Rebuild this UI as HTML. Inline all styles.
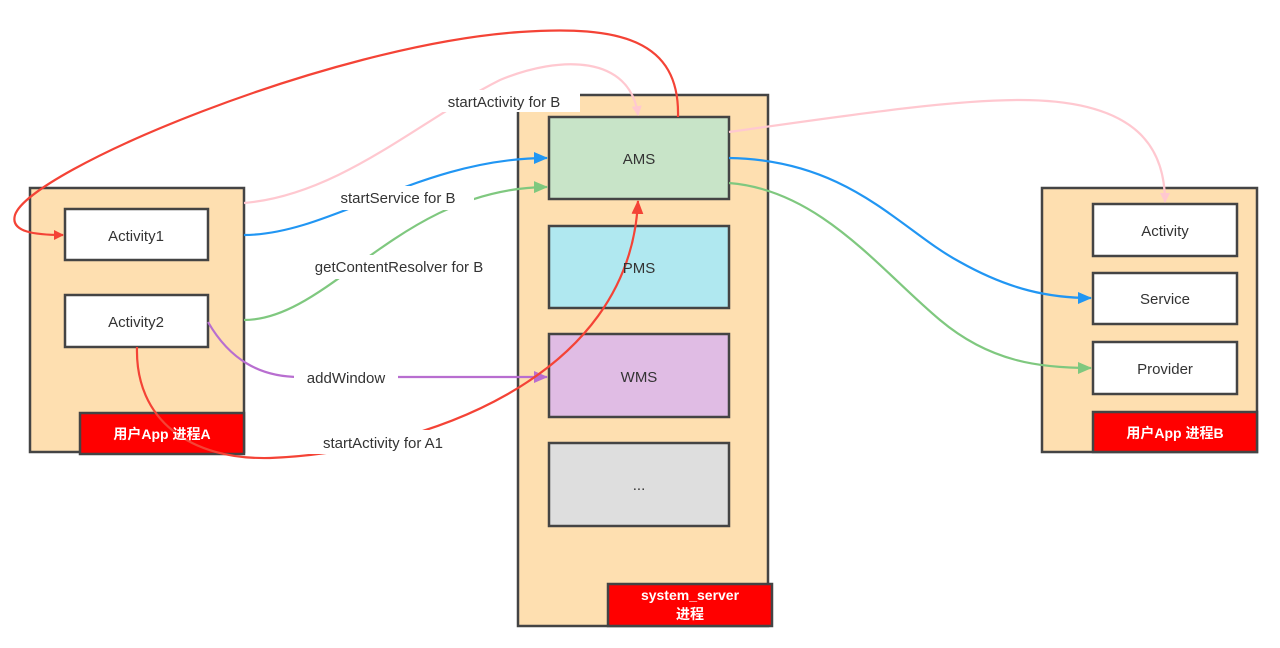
<!DOCTYPE html>
<html><head><meta charset="utf-8"><style>
html,body{margin:0;padding:0;background:#fff;width:1280px;height:648px;overflow:hidden}
svg text{font-family:"Liberation Sans","Noto Sans CJK SC",sans-serif}
</style></head><body>
<svg width="1280" height="648" viewBox="0 0 1280 648" xmlns="http://www.w3.org/2000/svg">
<defs>
<marker id="ar" markerWidth="10" markerHeight="10" refX="9" refY="5" orient="auto" markerUnits="userSpaceOnUse"><path d="M0,0 L10,5 L0,10 Z" fill="#f44336"/></marker>
<marker id="ap" markerWidth="10" markerHeight="10" refX="9" refY="5" orient="auto" markerUnits="userSpaceOnUse"><path d="M0,0 L10,5 L0,10 Z" fill="#ffc8d0"/></marker>
<marker id="ab" markerWidth="14" markerHeight="12" refX="13" refY="6" orient="auto" markerUnits="userSpaceOnUse"><path d="M0,0 L14,6 L0,12 Z" fill="#2196f3"/></marker>
<marker id="ag" markerWidth="14" markerHeight="12" refX="13" refY="6" orient="auto" markerUnits="userSpaceOnUse"><path d="M0,0 L14,6 L0,12 Z" fill="#7fc87f"/></marker>
<marker id="au" markerWidth="14" markerHeight="12" refX="13" refY="6" orient="auto" markerUnits="userSpaceOnUse"><path d="M0,0 L14,6 L0,12 Z" fill="#b86ed0"/></marker>
<marker id="ar2" markerWidth="14" markerHeight="12" refX="13" refY="6" orient="auto" markerUnits="userSpaceOnUse"><path d="M0,0 L14,6 L0,12 Z" fill="#f44336"/></marker>
</defs>
<g stroke="#444" stroke-width="2.5">
<rect x="30" y="188" width="214" height="264" fill="#fedfb0"/>
<rect x="65" y="209" width="143" height="51" fill="#fff"/>
<rect x="65" y="295" width="143" height="52" fill="#fff"/>
<rect x="518" y="95" width="250" height="531" fill="#fedfb0"/>
<rect x="549" y="117" width="180" height="82" fill="#c8e4c8"/>
<rect x="549" y="226" width="180" height="82" fill="#b0e8f0"/>
<rect x="549" y="334" width="180" height="83" fill="#e0bce4"/>
<rect x="549" y="443" width="180" height="83" fill="#dedede"/>
<rect x="1042" y="188" width="215" height="264" fill="#fedfb0"/>
<rect x="1093" y="204" width="144" height="52" fill="#fff"/>
<rect x="1093" y="273" width="144" height="51" fill="#fff"/>
<rect x="1093" y="342" width="144" height="52" fill="#fff"/>
<rect x="80" y="413" width="164" height="41" fill="#ff0000"/>
<rect x="608" y="584" width="164" height="42" fill="#ff0000"/>
<rect x="1093" y="412" width="164" height="40" fill="#ff0000"/>
</g>
<g fill="none" stroke-width="2.2">
<path d="M678,117 C680,40 620,25 520,32 C330,45 30,170 15,215 C10,232 35,235 63,235" stroke="#f44336" marker-end="url(#ar)"/>
<path d="M244,203 C340,195 420,120 500,80 C560,55 630,55 638,115" stroke="#ffc8d0" marker-end="url(#ap)"/>
<path d="M244,235 C330,235 420,158 547,158" stroke="#2196f3" marker-end="url(#ab)"/>
<path d="M244,320 C330,320 400,188 547,187" stroke="#7fc87f" marker-end="url(#ag)"/>
<path d="M208,322 C230,360 260,377 300,377 L547,377" stroke="#b86ed0" marker-end="url(#au)"/>
<path d="M137,347 C135,420 190,460 270,458 C420,452 630,380 638,201" stroke="#f44336" marker-end="url(#ar2)"/>
<path d="M729,132 C850,115 950,100 1020,100 C1140,100 1165,150 1165,202" stroke="#ffc8d0" marker-end="url(#ap)"/>
<path d="M729,158 C850,160 900,230 960,262 C1010,290 1050,298 1091,298" stroke="#2196f3" marker-end="url(#ab)"/>
<path d="M729,183 C820,190 880,270 940,320 C990,362 1040,368 1091,368" stroke="#7fc87f" marker-end="url(#ag)"/>
</g>
<g fill="#fff">
<rect x="428" y="90" width="152" height="22"/>
<rect x="322" y="186" width="152" height="24"/>
<rect x="288" y="255" width="222" height="24"/>
<rect x="294" y="366" width="104" height="22"/>
<rect x="302" y="430" width="162" height="24"/>
</g>
<g font-size="15" fill="#333" text-anchor="middle">
<text x="504" y="107">startActivity for B</text>
<text x="398" y="203">startService for B</text>
<text x="399" y="272">getContentResolver for B</text>
<text x="346" y="383">addWindow</text>
<text x="383" y="448">startActivity for A1</text>
<text x="136" y="241">Activity1</text>
<text x="136" y="327">Activity2</text>
<text x="639" y="164">AMS</text>
<text x="639" y="273">PMS</text>
<text x="639" y="382">WMS</text>
<text x="639" y="490">...</text>
<text x="1165" y="236">Activity</text>
<text x="1165" y="304">Service</text>
<text x="1165" y="374">Provider</text>
</g>
<g font-size="14" fill="#fff" text-anchor="middle" font-weight="bold">
<text x="162" y="439">用户App 进程A</text>
<text x="1175" y="438">用户App 进程B</text>
<text x="690" y="600">system_server</text>
<text x="690" y="619">进程</text>
</g>
</svg>
</body></html>
